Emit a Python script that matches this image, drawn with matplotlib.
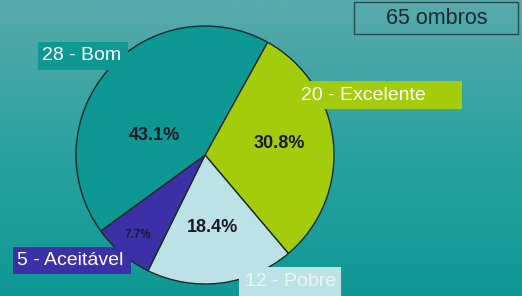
import matplotlib.pyplot as plt
import numpy as np
from matplotlib.colors import LinearSegmentedColormap
from matplotlib.patches import Rectangle

plt.rcParams['font.family'] = ['Liberation Sans', 'DejaVu Sans']

# The data
categories = ['Excelente', 'Pobre', 'Aceitável', 'Bom']
counts = [20, 12, 5, 28]
pct_labels = ['30.8%', '18.4%', '7.7%', '43.1%']
total_label = '65 ombros'

colors = ['#a2cc0c', '#bce2e6', '#3b30a6', '#0e9894']

fig = plt.figure(figsize=(5.22, 2.96), dpi=100)
ax = fig.add_axes([0, 0, 1, 1])

# teal gradient background
bg = LinearSegmentedColormap.from_list('bg', ['#109894', '#2aa2a0', '#5aaaaa'])
grad = np.linspace(0, 1, 256).reshape(-1, 1)
ax.imshow(grad, cmap=bg, extent=[0, 522, 0, 296], aspect='auto',
          origin='lower', zorder=0)

wedges, _ = ax.pie(counts, colors=colors, startangle=61, counterclock=False,
                   center=(205, 141), radius=129, frame=True,
                   wedgeprops=dict(edgecolor='#1a2a2a', linewidth=1.0))
for w in wedges:
    w.set_zorder(2)
ax.set_xlim(0, 522)
ax.set_ylim(0, 296)
ax.set_aspect('auto')
ax.axis('off')

# percentage labels
pct_pos = [(279, 152), (212, 68), (138, 61), (154, 161)]
pct_size = [13, 13, 8.5, 13]
for (x, y), t, s in zip(pct_pos, pct_labels, pct_size):
    ax.text(x, y, t, ha='center', va='center', fontsize=s,
            fontweight='bold', color='#1a1a2a', zorder=3)

# category labels in coloured boxes (x0, y0, w, h, text x)
boxes = [(298, 187, 164, 28, 301), (239, 0, 102, 29, 245),
         (13, 22, 118, 27, 17), (38, 226, 90, 28, 42)]
text_cols = ['white', '#e8f6f8', 'white', 'white']
for (x0, y0, w, h, tx), c, n, col, tc in zip(boxes, categories, counts,
                                             colors, text_cols):
    ax.add_patch(Rectangle((x0, y0), w, h, facecolor=col, edgecolor='none',
                           zorder=4))
    ax.text(tx, y0 + h / 2, '%d - %s' % (n, c), ha='left', va='center',
            fontsize=14, color=tc, zorder=5)

# total box
ax.add_patch(Rectangle((354, 262), 164, 32, facecolor='none',
                       edgecolor='#2a4a50', linewidth=1.0, zorder=4))
ax.text(437, 278, total_label, ha='center', va='center', fontsize=15.5,
        color='#1a2a30', zorder=5)

fig.savefig('out.png', dpi=100)
